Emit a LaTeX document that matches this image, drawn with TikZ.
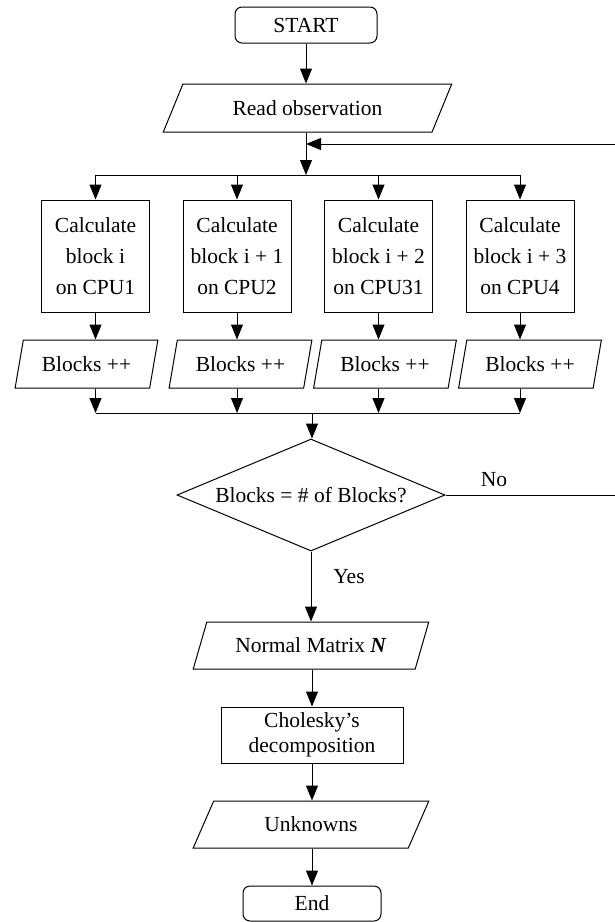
\documentclass[tikz,border=0pt]{standalone}
\usepackage{fontspec}
\setmainfont{Liberation Serif}
\usetikzlibrary{shapes.geometric,arrows.meta}
\begin{document}
\begin{tikzpicture}[x=1pt,y=-1pt,line width=1pt,
  every node/.style={font=\fontsize{21.5}{31}\selectfont,align=center,inner sep=0pt},
  term/.style={draw,rectangle,rounded corners=7pt},
  calcbox/.style={draw,rectangle,minimum width=108pt,minimum height=112pt},
  io/.style={draw,trapezium,trapezium stretches=true,minimum height=48pt},
  arr/.style={-{Triangle[length=15pt,width=12pt]}}]
\useasboundingbox (0,0) rectangle (615,922);
\clip (0,0) rectangle (615,922);

\node[term,minimum width=142pt,minimum height=36pt] (start) at (306,25) {START};
\node[io,trapezium left angle=52,trapezium right angle=128,minimum width=289pt] (read) at (307.5,108) {Read observation};
\coordinate (fb) at (306,144);
\coordinate (split) at (306,175);

\node[calcbox] (c1) at (95.5,256) {Calculate\\block i\\on CPU1};
\node[calcbox] (c2) at (237,256) {Calculate\\block i + 1\\on CPU2};
\node[calcbox] (c3) at (378.5,256) {Calculate\\block i + 2\\on CPU31};
\node[calcbox] (c4) at (520,256) {Calculate\\block i + 3\\on CPU4};

\node[io,trapezium left angle=69,trapezium right angle=111,minimum width=143pt] (b1) at (86.5,364) {Blocks ++};
\node[io,trapezium left angle=69,trapezium right angle=111,minimum width=143pt] (b2) at (240.5,364) {Blocks ++};
\node[io,trapezium left angle=69,trapezium right angle=111,minimum width=143pt] (b3) at (385,364) {Blocks ++};
\node[io,trapezium left angle=69,trapezium right angle=111,minimum width=143pt] (b4) at (530,364) {Blocks ++};

\coordinate (join) at (312,413);

\node[draw,diamond,aspect=2.39,minimum width=268pt,minimum height=112pt] (dec) at (311,495) {Blocks = \# of Blocks?};
\node (no) at (494,480) {No};
\node (yes) at (349,577) {Yes};
\coordinate (loopA) at (618,495);
\coordinate (loopB) at (618,144);

\node[io,trapezium left angle=57,trapezium right angle=123,minimum width=236pt,minimum height=47pt] (nm) at (311,645.5) {Normal Matrix \textbf{\textit{N}}};
\node[draw,rectangle,minimum width=182pt,minimum height=56pt,font=\fontsize{21.5}{25}\selectfont] (chol) at (312,735) {Cholesky’s\\decomposition};
\node[io,trapezium left angle=57,trapezium right angle=123,minimum width=236pt,minimum height=47pt] (unk) at (311,824.5) {Unknowns};
\node[term,minimum width=138pt,minimum height=35pt] (end) at (312,903.5) {End};

\draw[arr] (start.south) -- (start.south |- read.north);
\draw[arr] (fb |- read.south) -- (split);
\draw (c1.north |- split) -- (c4.north |- split);
\foreach \i in {1,2,3,4}{
  \draw[arr] (c\i.north |- split) -- (c\i.north);
  \draw[arr] (c\i.south) -- (c\i.south |- b\i.north);
  \draw[arr] (c\i.south |- b\i.south) -- (c\i.south |- join);
}
\draw (c1.south |- join) -- (c4.south |- join);
\draw[arr] (join) -- (join |- dec.north);
\draw[arr] (dec.east) -- (loopA) -- (loopB) -- (fb);
\draw[arr] (dec.south) -- (dec.south |- nm.north);
\draw[arr] (chol.north |- nm.south) -- (chol.north);
\draw[arr] (chol.south) -- (chol.south |- unk.north);
\draw[arr] (chol.south |- unk.south) -- (end.north);
\end{tikzpicture}
\end{document}
